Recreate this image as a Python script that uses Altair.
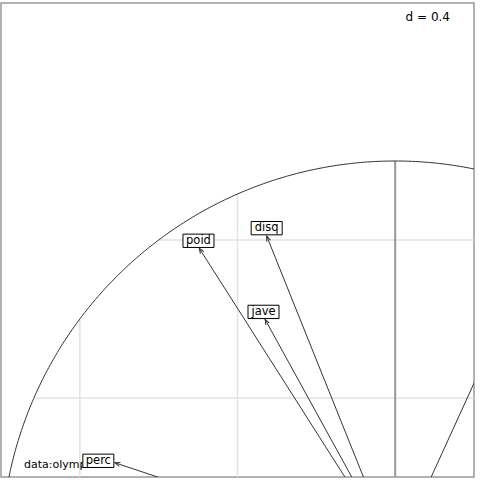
import altair as alt
import numpy as np
import pandas as pd

# ---- data ----
var_names = ["poid", "disq", "jave", "perc", "1500"]
tip_x = [-0.497, -0.326, -0.330, -0.711, 0.32]
tip_y = [0.779, 0.810, 0.599, 0.236, 0.70]
lab_x = [-0.499, -0.326, -0.334, -0.753, 0.32]
lab_y = [0.798, 0.830, 0.618, 0.241, 0.72]
grid_vals = [-0.8, -0.4, 0.4, 0.8]
d_label = "d = 0.4"
sub_label = "data:olympic"

X_DOM = [-1.0, 0.2]
Y_DOM = [0.2, 1.4]
FONT = "DejaVu Sans"

xs = alt.Scale(domain=X_DOM, nice=False, zero=False)
ys = alt.Scale(domain=Y_DOM, nice=False, zero=False)

# arrows table
arr = pd.DataFrame({"name": var_names, "x": tip_x, "y": tip_y,
                    "lx": lab_x, "ly": lab_y})
arr["x0"] = 0.0
arr["y0"] = 0.0
arr["ang"] = (np.degrees(np.arctan2(arr["x"], arr["y"])) + 360) % 360

# grid chords inside unit circle
gv = np.array(grid_vals)
h = np.sqrt(1 - gv ** 2)
grid = pd.concat([
    pd.DataFrame({"x": gv, "x2": gv, "y": -h, "y2": h}),
    pd.DataFrame({"x": -h, "x2": h, "y": gv, "y2": gv}),
])
axes_df = pd.DataFrame({"x": [0.0, -1.0], "x2": [0.0, 1.0],
                        "y": [-1.0, 0.0], "y2": [1.0, 0.0]})

th = np.linspace(0, 2 * np.pi, 721)
circ = pd.DataFrame({"x": np.cos(th), "y": np.sin(th), "o": np.arange(len(th))})

X = lambda f: alt.X(f, type="quantitative", scale=xs, axis=None)
Y = lambda f: alt.Y(f, type="quantitative", scale=ys, axis=None)

in_view = (f"datum.lx >= {X_DOM[0]} && datum.lx <= {X_DOM[1]} && "
           f"datum.ly >= {Y_DOM[0]} && datum.ly <= {Y_DOM[1]}")

grid_layer = alt.Chart(grid).mark_rule(color="#e2e2e2", strokeWidth=1.5, clip=True).encode(
    x=X("x"), x2="x2", y=Y("y"), y2="y2")
axis_layer = alt.Chart(axes_df).mark_rule(color="#999999", strokeWidth=2, clip=True).encode(
    x=X("x"), x2="x2", y=Y("y"), y2="y2")
circle_layer = alt.Chart(circ).mark_line(color="#333333", strokeWidth=1, clip=True).encode(
    x=X("x"), y=Y("y"), order="o:Q")
arrow_layer = alt.Chart(arr).mark_rule(color="#333333", strokeWidth=1, clip=True).encode(
    x=X("x0"), x2="x", y=Y("y0"), y2="y")
head_layer = alt.Chart(arr).mark_point(
    shape="M-0.38,1L0,0L0.38,1", filled=False, color="#333333", strokeWidth=1,
    size=110, opacity=1, clip=True).encode(
    x=X("x"), y=Y("y"), angle=alt.Angle("ang:Q", scale=None))
sub_layer = alt.Chart(pd.DataFrame({"t": [sub_label]})).mark_text(
    align="left", baseline="alphabetic", font=FONT, fontSize=11, color="#000000").encode(
    x=alt.value(23), y=alt.value(465), text="t:N")
box_layer = alt.Chart(arr).transform_filter(in_view).mark_point(
    shape="M-1,-0.43L1,-0.43L1,0.43L-1,0.43Z", filled=True, fill="white",
    stroke="black", strokeWidth=1, size=961, opacity=1, clip=True).encode(
    x=X("lx"), y=Y("ly"))
lab_layer = alt.Chart(arr).transform_filter(in_view).mark_text(
    align="center", baseline="middle", font=FONT, fontSize=11.5, color="#000000",
    clip=True).encode(x=X("lx"), y=Y("ly"), text="name:N")
d_layer = alt.Chart(pd.DataFrame({"t": [d_label]})).mark_text(
    align="right", baseline="alphabetic", font=FONT, fontSize=12, color="#000000").encode(
    x=alt.value(449), y=alt.value(18), text="t:N")

chart = alt.layer(grid_layer, axis_layer, circle_layer, arrow_layer, head_layer,
                  sub_layer, box_layer, lab_layer, d_layer).properties(
    width=473, height=474,
    autosize=alt.AutoSizeParams(type="none"),
    padding={"left": 1, "top": 3, "right": 6, "bottom": 3},
).configure_view(stroke="#999999", strokeWidth=1.5)

chart.save("out.html", embed_options={"renderer": "svg", "actions": False})
